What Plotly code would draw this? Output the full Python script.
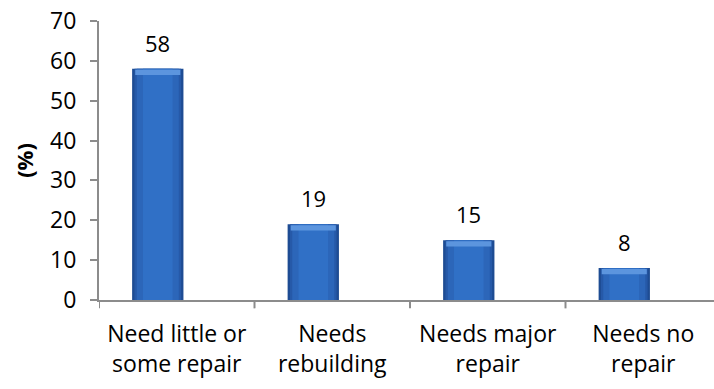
import plotly.graph_objects as go

categories = ["Need little or<br>some repair", "Needs<br>rebuilding", "Needs major<br>repair", "Needs no<br>repair"]
values = [58, 19, 15, 8]
y_ticks = [0, 10, 20, 30, 40, 50, 60, 70]

xpos = list(range(len(categories)))
FONT = "Open Sans"
OFF = -0.287
W = 0.33

fig = go.Figure()
# layered bars to simulate cylinder-like shading
layers = [
    (W, 0.0, "#1E4C93"),
    (W - 0.03, 0.015, "#2659A8"),
    (W - 0.06, 0.03, "#2C66B9"),
    (W - 0.14, 0.07, "#3070C6"),
]
for w, d, col in layers:
    fig.add_trace(go.Bar(x=xpos, y=values, width=w, offset=OFF + d,
                         marker=dict(color=col, line=dict(width=0)),
                         hoverinfo="skip", showlegend=False))
# light top highlight band
hl = 1.3
fig.add_trace(go.Bar(x=xpos, y=[hl] * len(values), base=[v - hl - 0.25 for v in values],
                     width=W - 0.04, offset=OFF + 0.02,
                     marker=dict(color="#5C95DE", line=dict(width=0)),
                     hoverinfo="skip", showlegend=False))

for xi, v in zip(xpos, values):
    fig.add_annotation(x=xi + OFF + W / 2, y=v, text=str(v), showarrow=False,
                       yshift=26, font=dict(family=FONT, size=22, color="#000000"))

fig.update_layout(
    width=714, height=389,
    margin=dict(l=99, r=0, t=21, b=89),
    paper_bgcolor="white", plot_bgcolor="white",
    barmode="overlay",
    font=dict(family=FONT, size=23, color="#000000"),
    xaxis=dict(
        range=[-0.5, 3.455], tickmode="array", tickvals=xpos, ticktext=categories,
        showline=True, linecolor="#8C8C8C", linewidth=2,
        ticks="", showgrid=False, zeroline=False,
        ticklabelstandoff=12, tickfont=dict(family=FONT, size=23),
    ),
    yaxis=dict(
        range=[0, 70], tickmode="array", tickvals=y_ticks,
        showline=True, linecolor="#8C8C8C", linewidth=2,
        ticks="outside", ticklen=7, tickcolor="#8C8C8C", tickwidth=2,
        showgrid=False, zeroline=False, ticklabelstandoff=9,
        tickfont=dict(family=FONT, size=23),
        title=dict(text="<b>(%)</b>", standoff=10, font=dict(family=FONT, size=22)),
    ),
)
# boundary tick marks on the x axis
for b in [-0.5, 0.5, 1.5, 2.5]:
    fig.add_shape(type="line", xref="x", yref="paper", x0=b, x1=b, y0=0, y1=-0.03,
                  line=dict(color="#8C8C8C", width=2))

fig.write_html("out.html")
